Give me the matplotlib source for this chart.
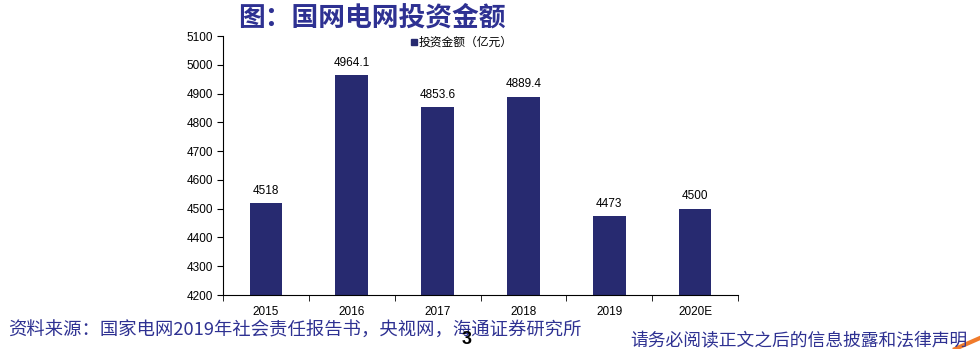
import numpy as np
import matplotlib
matplotlib.use("Agg")
import matplotlib.pyplot as plt

plt.rcParams['font.family'] = ['Liberation Sans', 'Noto Sans CJK SC', 'DejaVu Sans']

years = ["2015", "2016", "2017", "2018", "2019", "2020E"]
invest = [4518, 4964.1, 4853.6, 4889.4, 4473, 4500]
labels = ["4518", "4964.1", "4853.6", "4889.4", "4473", "4500"]
yticks = np.arange(4200, 5101, 100)

navy = "#272a70"
text_blue = "#2e3192"

fig = plt.figure(figsize=(9.8, 3.49), dpi=100)
ax = fig.add_axes([0.2276, 0.1547, 0.5255, 0.7421])

x = np.arange(len(years))
ax.bar(x, invest, width=0.38, color=navy, bottom=0)
for xi, v, s in zip(x, invest, labels):
    ax.text(xi, v + 22, s, ha="center", va="bottom", fontsize=8.5, color="black")

ax.set_ylim(4200, 5100)
ax.set_xlim(-0.5, len(years) - 0.5)
ax.set_yticks(yticks)
ax.set_yticklabels([str(t) for t in yticks], fontsize=8.5)
ax.set_xticks(x)
ax.set_xticklabels(years, fontsize=8.5)
ax.set_xticks(np.arange(len(years) + 1) - 0.5, minor=True)
ax.tick_params(axis="x", which="major", length=0, pad=8)
ax.tick_params(axis="x", which="minor", length=4, direction="out", color="black")
ax.tick_params(axis="y", length=4, direction="out", pad=3)
for sp in ["top", "right"]:
    ax.spines[sp].set_visible(False)
for sp in ["left", "bottom"]:
    ax.spines[sp].set_linewidth(0.8)

# legend
fig.patches.append(plt.Rectangle((411 / 980, 1 - 45 / 349), 6 / 980, 6 / 349,
                                 transform=fig.transFigure, color=navy))
fig.text(419 / 980, 1 - 42 / 349, "投资金额（亿元）", fontsize=8.5,
         family=['Noto Sans CJK SC'], va="center", ha="left", color="black")

# title
fig.text(238 / 980, 1 - 18 / 349, "图：国网电网投资金额", fontsize=19.3, fontweight="bold",
         family=['Noto Sans CJK SC'], color=text_blue, va="center", ha="left")

# footer
fig.text(8 / 980, 1 - 331 / 349, "资料来源：国家电网2019年社会责任报告书，央视网，海通证券研究所",
         fontsize=13.2, family=['Noto Sans CJK SC', 'DejaVu Sans'], color=text_blue,
         va="center", ha="left")
fig.text(467 / 980, 1 - 339 / 349, "3", fontsize=13, fontweight="bold", color="black",
         va="center", ha="center")
fig.text(968 / 980, 1 - 341 / 349, "请务必阅读正文之后的信息披露和法律声明",
         fontsize=12.8, family=['Noto Sans CJK SC'], color=text_blue,
         va="center", ha="right")
fig.lines.append(plt.Line2D([955 / 980, 980 / 980], [1 - 349 / 349, 1 - 338 / 349],
                            transform=fig.transFigure, color="#f07b2c", linewidth=3))

fig.savefig("out.png", dpi=100)
